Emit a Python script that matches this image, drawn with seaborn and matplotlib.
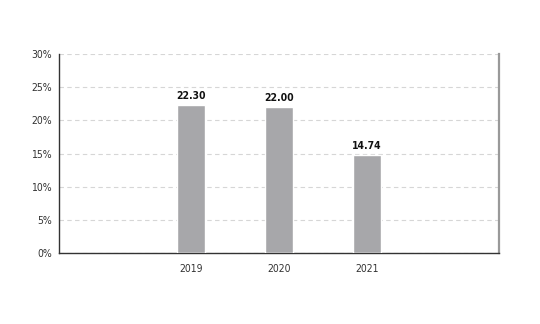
import matplotlib
matplotlib.use("Agg")
import matplotlib.pyplot as plt
import seaborn as sns
import pandas as pd

years = ["2019", "2020", "2021"]
values = [22.30, 22.00, 14.74]
yticks = [0, 5, 10, 15, 20, 25, 30]
ytick_labels = ["0%", "5%", "10%", "15%", "20%", "25%", "30%"]

sns.set_theme(style="white")
plt.rcParams['font.family'] = ['DejaVu Sans']
plt.rcParams['font.stretch'] = 'condensed'

df = pd.DataFrame({"year": years, "value": values})
fig = plt.figure(figsize=(5.4, 3.24), dpi=100)
ax = fig.add_axes([59/540, 71/324, 440/540, 199/324])
sns.barplot(data=df, x="year", y="value", color="#a7a7aa", width=0.31,
            saturation=1, ax=ax, zorder=3)
ax.set_xlim(-1.5, 3.5)
ax.set_ylim(0, 30)
ax.set_yticks(yticks)
ax.set_yticklabels(ytick_labels)
ax.set_xlabel("")
ax.set_ylabel("")
ax.yaxis.grid(True, linestyle=(0, (4, 3)), color="#d6d6d6", linewidth=0.8, zorder=0)
ax.xaxis.grid(False)
ax.tick_params(axis="both", length=0, labelsize=7.5, colors="#333333")
ax.tick_params(axis="x", pad=8)
ax.tick_params(axis="y", pad=5)
for s in ["left", "bottom"]:
    ax.spines[s].set_color("#333333")
    ax.spines[s].set_linewidth(1.0)
ax.spines["top"].set_visible(False)
ax.spines["right"].set_color("#999999")
ax.spines["right"].set_linewidth(1.6)
for c in ax.containers:
    ax.bar_label(c, labels=[f"{v:.2f}" for v in values], padding=3,
                 fontsize=7.5, fontweight="bold", color="#111111")
fig.savefig("out.png", dpi=100)
